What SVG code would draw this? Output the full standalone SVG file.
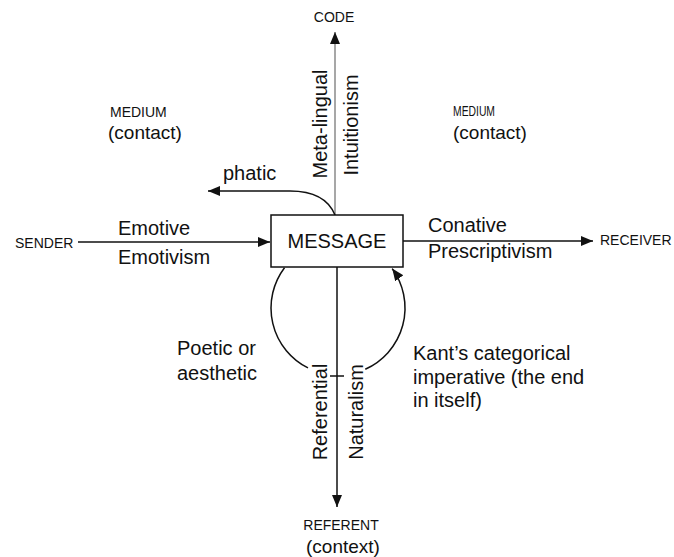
<svg xmlns="http://www.w3.org/2000/svg" width="674" height="557" viewBox="0 0 674 557">
<style>
.t{font-family:"Liberation Sans",Arial,sans-serif;font-size:20px;fill:#111}
.s{font-family:"Liberation Sans",Arial,sans-serif;font-size:19px;fill:#111}
.c{font-family:"Liberation Sans",Arial,sans-serif;font-size:14px;fill:#111}
.ln{fill:none;stroke:#111;stroke-width:1.5}
</style>
<defs>
<marker id="ah" markerUnits="userSpaceOnUse" markerWidth="13" markerHeight="11" refX="12" refY="5" orient="auto">
<path d="M0,0 L12,5 L0,10 z" fill="#111"/>
</marker>
</defs>
<rect width="674" height="557" fill="#fff"/>
<g id="connectors">
<line class="ln" x1="335" y1="215" x2="335" y2="32" marker-end="url(#ah)" style="stroke:#8a8a8a"/>
<path class="ln" d="M335,215 C328,198 312,191 290,191 L208,191" marker-end="url(#ah)"/>
<line class="ln" x1="78" y1="242" x2="270" y2="242" marker-end="url(#ah)"/>
<line class="ln" x1="403" y1="241" x2="593" y2="241" marker-end="url(#ah)"/>
<line class="ln" x1="337" y1="267" x2="337" y2="507" marker-end="url(#ah)"/>
<path class="ln" d="M284.5,267.7 A67,67 0 0 0 308,367.9"/>
<path class="ln" d="M365.3,369.2 A67,67 0 0 0 392.2,268.6" marker-end="url(#ah)"/>
<line class="ln" x1="330" y1="376" x2="344" y2="376"/>
</g>
<g id="message">
<rect x="271" y="215" width="132" height="52" fill="#fff" stroke="#111" stroke-width="1.5"/>
<text class="t" x="337" y="248" text-anchor="middle">MESSAGE</text>
</g>
<g id="code"><text class="c" x="334" y="22" text-anchor="middle">CODE</text></g>
<g id="sender"><text class="c" x="15" y="248">SENDER</text></g>
<g id="receiver"><text class="c" x="600" y="245">RECEIVER</text></g>
<g id="referent">
<text class="c" x="341" y="530" text-anchor="middle">REFERENT</text>
<text class="s" x="343" y="553" text-anchor="middle">(context)</text>
</g>
<g id="medium-left">
<text class="c" x="110" y="117">MEDIUM</text>
<text class="s" x="108" y="139">(contact)</text>
</g>
<g id="medium-right">
<text class="c" x="453" y="116" textLength="42" lengthAdjust="spacingAndGlyphs">MEDIUM</text>
<text class="s" x="453" y="139">(contact)</text>
</g>
<g id="labels">
<text class="t" x="223" y="180">phatic</text>
<text class="t" transform="translate(327,124) rotate(-90)" text-anchor="middle">Meta-lingual</text>
<text class="t" transform="translate(358,125) rotate(-90)" text-anchor="middle">Intuitionism</text>
<text class="t" x="118" y="235">Emotive</text>
<text class="t" x="118" y="264">Emotivism</text>
<text class="t" x="428" y="232">Conative</text>
<text class="t" x="428" y="258">Prescriptivism</text>
<text class="t" x="177" y="355">Poetic or</text>
<text class="t" x="177" y="380">aesthetic</text>
<text class="t" x="413" y="360">Kant’s categorical</text>
<text class="t" x="413" y="384">imperative (the end</text>
<text class="t" x="413" y="407">in itself)</text>
<text class="t" transform="translate(327,412) rotate(-90)" text-anchor="middle">Referential</text>
<text class="t" transform="translate(363,412) rotate(-90)" text-anchor="middle">Naturalism</text>
</g>
</svg>
